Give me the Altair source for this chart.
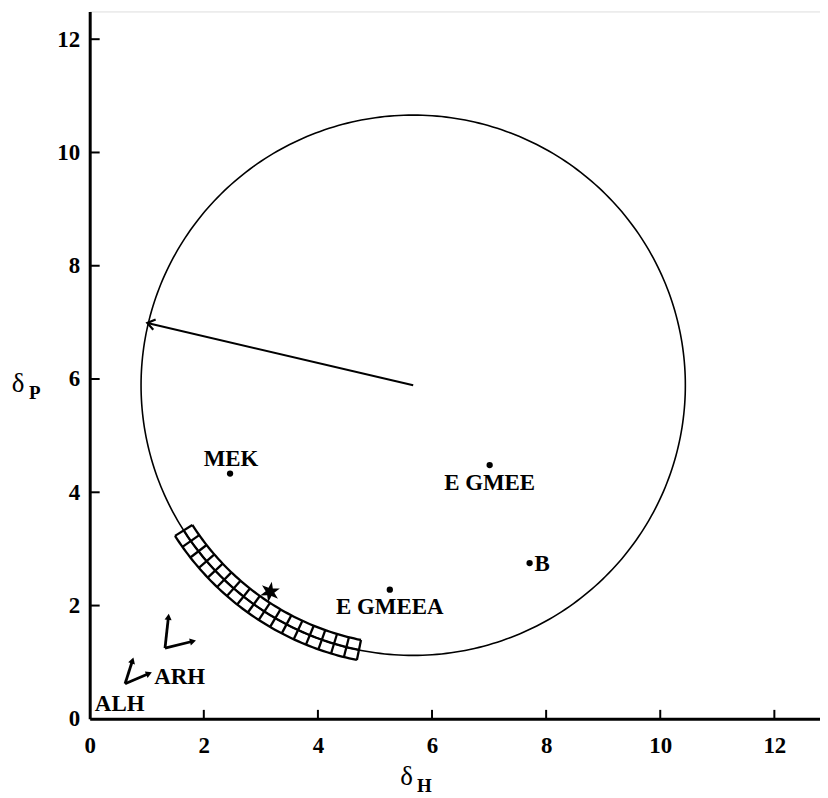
import math
import altair as alt
import numpy as np
import pandas as pd

# ---------------- data ----------------
x_ticks = [0, 2, 4, 6, 8, 10, 12]
y_ticks = [0, 2, 4, 6, 8, 10, 12]

pt_names = ["MEK", "E GMEE", "B", "E GMEEA"]
pt_dh = [2.46, 7.01, 7.71, 5.26]
pt_dp = [4.33, 4.48, 2.75, 2.28]

circle_center = [5.67, 5.89]
circle_radius = 4.77

arrow_tip = [1.01, 6.99]

star_pt = [3.16, 2.24]

band_angles = [212.5, 258.5]      # degrees, measured from the circle centre
band_halfwidth = 0.18
band_cols = 17

glyph_origin_x = [1.32, 0.62]
glyph_origin_y = [1.25, 0.62]
glyph_up_x = [1.38, 0.75]
glyph_up_y = [1.80, 1.03]
glyph_right_x = [1.81, 1.04]
glyph_right_y = [1.37, 0.80]

other_labels = ["ARH", "ALH"]
other_x = [1.13, 0.09]
other_y = [0.74, 0.26]

# ---------------- layout ----------------
W, H = 733, 710
XMAX, YMAX = 12.8, 12.49
sx, sy = W / XMAX, H / YMAX
FONT = "Liberation Serif"

xs = alt.Scale(domain=[0, XMAX], nice=False, zero=False)
ys = alt.Scale(domain=[0, YMAX], nice=False, zero=False)
x_axis = alt.Axis(values=x_ticks, title=None, grid=False, ticks=False,
                  domainColor="black", domainWidth=3, labelFont=FONT,
                  labelFontSize=23, labelFontWeight="bold", labelColor="black",
                  labelPadding=16, labelFlush=False, labelOverlap=False, format="d")
y_axis = alt.Axis(values=y_ticks, title=None, grid=False, ticks=False,
                  domainColor="black", domainWidth=3, labelFont=FONT,
                  labelFontSize=23, labelFontWeight="bold", labelColor="black",
                  labelPadding=10, labelFlush=False, labelOverlap=False, format="d")


def X(f="x"):
    return alt.X(f, type="quantitative", scale=xs, axis=x_axis)


def Y(f="y"):
    return alt.Y(f, type="quantitative", scale=ys, axis=y_axis)


# ---------------- geometry tables ----------------
cx, cy = circle_center
rows = []
for i, t in enumerate(range(0, 361, 1)):
    a = math.radians(t)
    rows.append({"x": cx + circle_radius * math.cos(a), "y": cy + circle_radius * math.sin(a),
                 "g": "circle", "o": i})
circle_df = pd.DataFrame(rows)

band_rows = []
a0, a1 = band_angles
arc_angles = np.linspace(a0, a1, 60)
for k, rr in enumerate([circle_radius - band_halfwidth, circle_radius, circle_radius + band_halfwidth]):
    for i, t in enumerate(arc_angles):
        a = math.radians(t)
        band_rows.append({"x": cx + rr * math.cos(a), "y": cy + rr * math.sin(a), "g": f"arc{k}", "o": i})
for j, t in enumerate(np.linspace(a0, a1, band_cols + 1)):
    a = math.radians(t)
    for i, rr in enumerate([circle_radius - band_halfwidth, circle_radius + band_halfwidth]):
        band_rows.append({"x": cx + rr * math.cos(a), "y": cy + rr * math.sin(a), "g": f"rad{j}", "o": i})
band_df = pd.DataFrame(band_rows)

shaft_df = pd.DataFrame({"x": [cx, arrow_tip[0]], "y": [cy, arrow_tip[1]], "o": [0, 1]})
head_ang = math.degrees(math.atan2(-(arrow_tip[1] - cy) * sy, (arrow_tip[0] - cx) * sx)) % 360
head_df = pd.DataFrame({"x": [arrow_tip[0]], "y": [arrow_tip[1]], "ang": [head_ang]})

g_rows, tri_rows = [], []
for k in range(len(glyph_origin_x)):
    ox, oy = glyph_origin_x[k], glyph_origin_y[k]
    for name, tx, ty in [("u", glyph_up_x[k], glyph_up_y[k]), ("r", glyph_right_x[k], glyph_right_y[k])]:
        g_rows.append({"x": ox, "y": oy, "g": f"{k}{name}", "o": 0})
        g_rows.append({"x": tx, "y": ty, "g": f"{k}{name}", "o": 1})
        ang = math.degrees(math.atan2((tx - ox) * sx, (ty - oy) * sy)) % 360
        tri_rows.append({"x": tx, "y": ty, "ang": ang})
glyph_df = pd.DataFrame(g_rows)
tri_df = pd.DataFrame(tri_rows)

pts_df = pd.DataFrame({"x": pt_dh, "y": pt_dp, "name": pt_names})
star_df = pd.DataFrame({"x": [star_pt[0]], "y": [star_pt[1]]})
other_df = pd.DataFrame({"x": other_x, "y": other_y, "t": other_labels})
xt_df = pd.DataFrame({"x": x_ticks[1:]})
yt_df = pd.DataFrame({"y": y_ticks[1:]})

# star symbol path
sp = []
for k in range(12):
    a = math.radians(80 + 30 * k)
    rr = 1.0 if k % 2 == 0 else 0.42
    sp.append(f"{rr * math.cos(a):.3f},{-rr * math.sin(a):.3f}")
star_path = "M" + " L".join(sp) + " Z"

# ---------------- layers ----------------
circle = alt.Chart(circle_df).mark_line(color="black", strokeWidth=1.6).encode(
    x=X(), y=Y(), detail="g:N", order="o:Q")

band = alt.Chart(band_df).mark_line(color="black", strokeWidth=2.3).encode(
    x=X(), y=Y(), detail="g:N", order="o:Q")

shaft = alt.Chart(shaft_df).mark_line(color="black", strokeWidth=2).encode(
    x=X(), y=Y(), order="o:Q")
head = alt.Chart(head_df).mark_point(shape="M -1.4,-1 L 0,0 L -1.4,1", filled=False,
                                     color="black", strokeWidth=2.2, size=110, opacity=1).encode(
    x=X(), y=Y(), angle=alt.Angle("ang:Q", scale=None))

glyph_lines = alt.Chart(glyph_df).mark_line(color="black", strokeWidth=2.8).encode(
    x=X(), y=Y(), detail="g:N", order="o:Q")
glyph_heads = alt.Chart(tri_df).mark_point(shape="triangle-up", filled=True, color="black",
                                           size=50, opacity=1).encode(
    x=X(), y=Y(), angle=alt.Angle("ang:Q", scale=None))

dots = alt.Chart(pts_df).mark_circle(color="black", size=40, opacity=1).encode(x=X(), y=Y())
star = alt.Chart(star_df).mark_point(shape=star_path, filled=True, color="black",
                                     size=440, opacity=1).encode(x=X(), y=Y())

txt = dict(font=FONT, fontSize=23, fontWeight="bold", color="black")


def label(name, **kw):
    return alt.Chart(pts_df).transform_filter(alt.datum.name == name).mark_text(**txt, **kw).encode(
        x=X(), y=Y(), text="name:N")


lab_mek = label("MEK", align="center", baseline="middle", dy=-15, dx=1)
lab_egmee = label("E GMEE", align="center", baseline="middle", dy=18)
lab_b = label("B", align="left", baseline="middle", dx=5, dy=1)
lab_egmeea = label("E GMEEA", align="center", baseline="middle", dy=17)

others = alt.Chart(other_df).mark_text(**txt, align="left", baseline="middle").encode(
    x=X(), y=Y(), text="t:N")

xticks = alt.Chart(xt_df).mark_rule(color="black", strokeWidth=2).encode(
    x=X(), y=alt.value(H), y2=alt.value(H - 9))
yticks = alt.Chart(yt_df).mark_rule(color="black", strokeWidth=2).encode(
    y=Y(), x=alt.value(0), x2=alt.value(10))

title_df = pd.DataFrame({"s": ["δ", "H", "δ", "P"], "k": [0, 1, 2, 3]})


def ttext(i, xpx, ypx, size, weight):
    return alt.Chart(title_df).transform_filter(alt.datum.k == i).mark_text(
        font=FONT, fontSize=size, fontWeight=weight, color="black",
        align="center", baseline="middle").encode(
        x=alt.value(xpx), y=alt.value(ypx), text="s:N")


t_dh = ttext(0, 318, 768, 27, "normal")
t_h = ttext(1, 336, 777, 19, "bold")
t_dp = ttext(2, -72, 374, 27, "normal")
t_p = ttext(3, -55, 383, 19, "bold")

chart = alt.layer(
    circle, band, shaft, head, glyph_lines, glyph_heads, dots, star,
    lab_mek, lab_egmee, lab_b, lab_egmeea, others, xticks, yticks,
    t_dh, t_h, t_dp, t_p
).properties(
    width=W, height=H,
    autosize=alt.AutoSizeParams(type="none"),
    padding={"left": 82, "top": 2, "right": 0, "bottom": 80},
).configure_view(stroke=None).configure(background="white")

chart.save("out.html", embed_options={"renderer": "svg", "actions": False})
